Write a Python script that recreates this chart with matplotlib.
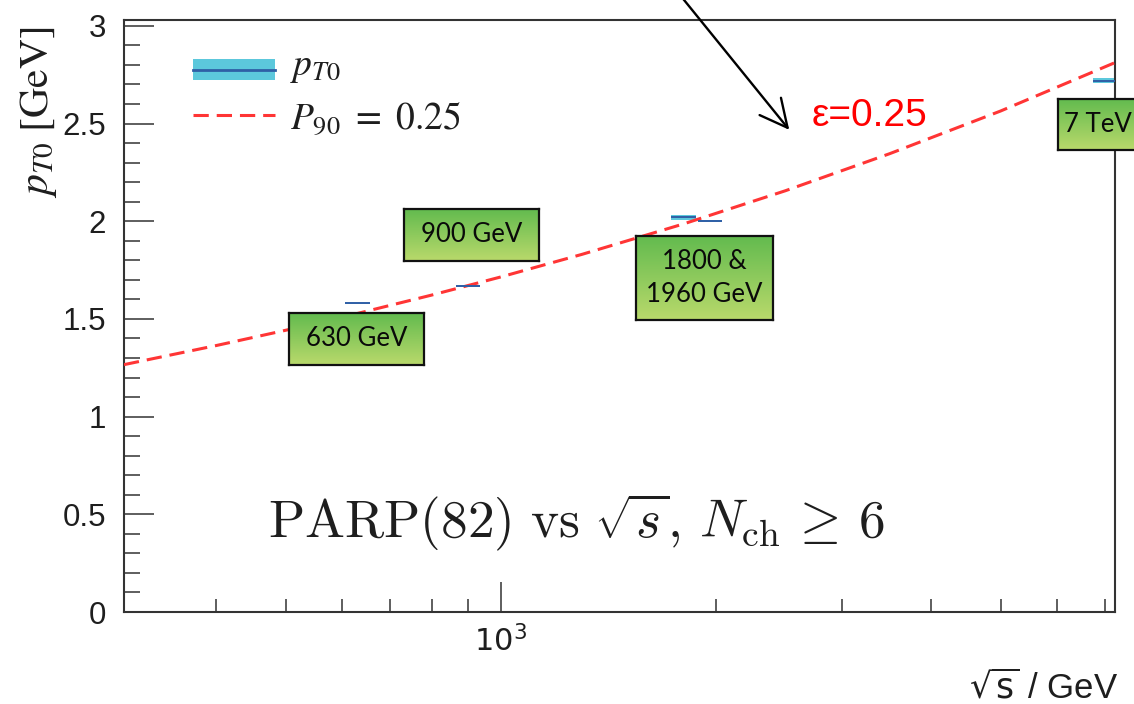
import numpy as np
import matplotlib
matplotlib.use("Agg")
import matplotlib.pyplot as plt
from matplotlib.patches import Rectangle, FancyArrowPatch
from matplotlib.ticker import FixedLocator, FixedFormatter, NullFormatter, MultipleLocator
from matplotlib.colors import LinearSegmentedColormap

# ---------------- data ----------------
energies = [630, 900, 1800, 1960, 7000]            # sqrt(s) in GeV
pt0_values = [1.58, 1.67, 2.02, 2.00, 2.72]        # fitted pT0 [GeV]
pt0_band = [0.004, 0.006, 0.012, 0.005, 0.015]     # half-height of band

curve_energies = [297, 400, 500, 630, 800, 1000, 1300, 1800, 2500, 3500, 5000, 7230]
curve_pt0 = [1.266, 1.364, 1.442, 1.528, 1.622, 1.715, 1.831, 1.986, 2.156, 2.346, 2.564, 2.812]

box_texts = ["630 GeV", "900 GeV", "1800 &\n1960 GeV", "7 TeV"]
legend_labels = [r"$p_{T0}$", r"$P_{90}\ =\ 0.25$"]
eps_text = "ε=0.25"
title_text = r"$\mathrm{PARP}(82)\ \mathrm{vs}\ \sqrt{s},\, N_{\mathrm{ch}}\, \geq\, 6$"
y_ticks = [0, 0.5, 1, 1.5, 2, 2.5, 3]
y_ticklabels = ["0", "0.5", "1", "1.5", "2", "2.5", "3"]
x_major = [1000]
x_majorlabels = [r"$10^{3}$"]
x_minor = [400, 500, 600, 700, 800, 900, 2000, 3000, 4000, 5000, 6000, 7000]

# ---------------- style ----------------
W, H = 1134, 704
CYAN = "#5cc8dc"
DARK = "#2f5fa6"
RED = "#ff3535"
SPINE = "#333333"
TXT = "#1e1e1e"

fig = plt.figure(figsize=(W / 100, H / 100), dpi=100)
fig.patch.set_facecolor("white")

L, R, T, B = 124, 1115, 20, 612
ax = fig.add_axes([L / W, (H - B) / H, (R - L) / W, (B - T) / H])
ax.set_xscale("log")
ax.set_xlim(297, 7230)
ax.set_ylim(0, 3.03)


def ax_xy(px, py):
    """pixel position (from top-left of image) -> axes fraction"""
    return (px - L) / (R - L), (B - py) / (B - T)


# curve
ax.plot(curve_energies, curve_pt0, color=RED, lw=2.2, ls=(0, (5, 2.6)), zorder=3)

# data bands
hw = 1.04
for e, v, b in zip(energies, pt0_values, pt0_band):
    ax.fill_between([e / hw, e * hw], [v - b, v - b], [v + b, v + b],
                    color=CYAN, lw=0, zorder=2)
    ax.plot([e / hw, e * hw], [v, v], color=DARK, lw=1.4, zorder=4, solid_capstyle="butt")

# axes styling
for s in ax.spines.values():
    s.set_linewidth(1.5)
    s.set_color(SPINE)
ax.xaxis.set_major_locator(FixedLocator(x_major))
ax.xaxis.set_major_formatter(FixedFormatter(x_majorlabels))
ax.xaxis.set_minor_locator(FixedLocator(x_minor))
ax.xaxis.set_minor_formatter(NullFormatter())
ax.yaxis.set_major_locator(FixedLocator(y_ticks))
ax.yaxis.set_major_formatter(FixedFormatter(y_ticklabels))
ax.yaxis.set_minor_locator(MultipleLocator(0.1))
ax.tick_params(axis="both", which="both", direction="in", top=False, right=False,
               color=SPINE, width=1.1)
ax.tick_params(axis="y", which="major", length=21.5, pad=13)
ax.tick_params(axis="y", which="minor", length=11.5)
ax.tick_params(axis="x", which="major", length=21.5, pad=10)
ax.tick_params(axis="x", which="minor", length=9.5)
for lab in ax.get_yticklabels():
    lab.set_fontfamily("Liberation Sans")
    lab.set_fontsize(22.5)
    lab.set_color(TXT)
for lab in ax.get_xticklabels():
    lab.set_fontfamily("Liberation Sans")
    lab.set_fontsize(22)
    lab.set_color(TXT)
    lab.set_math_fontfamily("dejavusans")

# y label
ax.set_ylabel(r"$p_{T0}\ [\mathrm{GeV}]$", loc="top", fontsize=30,
              math_fontfamily="stix", color=TXT)
ax.yaxis.set_label_coords(-0.066, 0.988)

# legend (drawn as key entries in axes coordinates)
bx0, by1 = ax_xy(193, 80)
bx1, by0 = ax_xy(275, 59)
ax.add_patch(Rectangle((bx0, by1), bx1 - bx0, by0 - by1, transform=ax.transAxes,
                       facecolor=CYAN, edgecolor="none", zorder=5))
_, ly = ax_xy(0, 69.5)
ax.plot([bx0, bx1], [ly, ly], transform=ax.transAxes, color=DARK, lw=2, zorder=6)
_, dy = ax_xy(0, 115)
ax.plot([bx0, bx1], [dy, dy], transform=ax.transAxes, color=RED, lw=2.2,
        ls=(0, (5, 2.6)), zorder=6)
tx, t1 = ax_xy(290, 75)
_, t2 = ax_xy(290, 130)
ax.text(tx, t1, legend_labels[0], transform=ax.transAxes, ha="left", va="baseline",
        fontsize=27, math_fontfamily="stix", color=TXT)
ax.text(tx, t2, legend_labels[1], transform=ax.transAxes, ha="left", va="baseline",
        fontsize=27, math_fontfamily="stix", color=TXT)

# big annotation text
ax.text(0.457, 0.152, title_text, transform=ax.transAxes, ha="center", va="center",
        fontsize=38.4, math_fontfamily="cm", color=TXT)

# epsilon text
fig.text(812 / W, 1 - 116 / H, eps_text, ha="left", va="center", color="red",
         fontsize=28, fontfamily="Liberation Sans")

# arrow
arrow = FancyArrowPatch((680 / W, 1 + 5 / H), (791 / W, 1 - 132 / H),
                        transform=fig.transFigure, arrowstyle="->,head_length=0.9,head_width=0.45",
                        mutation_scale=22, lw=1.7, color="black")
fig.add_artist(arrow)

# x label
fig.text(1118 / W, 1 - 688 / H, r"$\sqrt{\mathsf{s}}$ / GeV", ha="right", va="center",
         fontsize=25, fontfamily="Liberation Sans", math_fontfamily="dejavusans",
         color=TXT)

# gradient label boxes (pixel rects x0, y0, x1, y1 from top-left)
box_rects = [(289, 313, 424, 365), (404, 209, 539, 261), (636, 236, 773, 320), (1058, 99, 1160, 150)]
box_text_x = [0.5, 0.5, 0.5, (1098 - 1058) / (1160 - 1058)]
grad = LinearSegmentedColormap.from_list("g", ["#63bb4f", "#b9d96b"])
gimg = np.linspace(0, 1, 64).reshape(-1, 1)
for (x0, y0, x1, y1), txt, tx_ in zip(box_rects, box_texts, box_text_x):
    bax = fig.add_axes([x0 / W, 1 - y1 / H, (x1 - x0) / W, (y1 - y0) / H])
    bax.imshow(gimg, aspect="auto", cmap=grad, extent=(0, 1, 0, 1), origin="upper")
    bax.set_xlim(0, 1)
    bax.set_ylim(0, 1)
    bax.set_xticks([])
    bax.set_yticks([])
    for s in bax.spines.values():
        s.set_linewidth(1.6)
        s.set_color("#111111")
    bax.text(tx_, 0.5, txt, ha="center", va="center", fontsize=18.5, fontfamily="Lato",
             color="#0a0a0a", linespacing=1.4, transform=bax.transAxes)

fig.savefig("out.png", dpi=100)
